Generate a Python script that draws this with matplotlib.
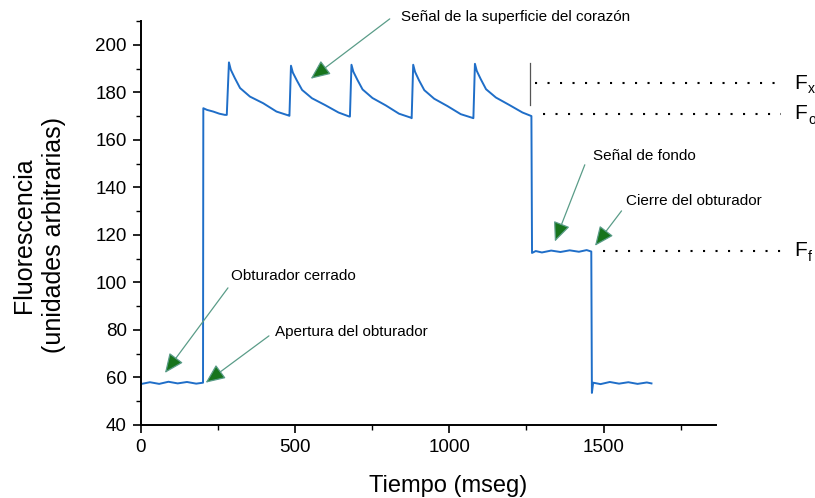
import matplotlib
matplotlib.use("Agg")
import matplotlib.pyplot as plt
from matplotlib.ticker import MultipleLocator

# Trazo de fluorescencia (tiempo en mseg, unidades arbitrarias)
tiempo = [7, 30, 60, 90, 120, 150, 180, 202,
          203, 215, 235, 255, 273,
          279, 286, 292, 305, 322, 354, 397, 440, 478,
          482, 487, 493, 506, 523, 555, 598, 641, 676,
          678, 683, 689, 702, 719, 751, 794, 837, 876,
          878, 883, 889, 902, 919, 951, 994, 1037, 1076,
          1078, 1083, 1089, 1102, 1119, 1151, 1194, 1237, 1266,
          1268, 1280, 1300, 1330, 1360, 1390, 1420, 1445, 1460,
          1462, 1466, 1490, 1520, 1550, 1580, 1610, 1640, 1655]
fluor = [57.4, 58.0, 57.3, 58.2, 57.5, 58.1, 57.4, 57.8,
         173.3, 172.6, 171.9, 171.0, 170.5,
         170.5, 192.6, 189.5, 186.0, 181.8, 178.2, 175.4, 171.9, 170.3,
         170.1, 191.2, 188.3, 185.0, 181.0, 177.5, 174.6, 171.5, 169.8,
         169.8, 191.6, 188.7, 185.3, 181.2, 177.6, 174.5, 171.0, 169.3,
         169.1, 191.6, 188.6, 185.0, 180.9, 177.3, 174.2, 170.8, 169.2,
         169.1, 192.0, 189.0, 185.5, 181.3, 177.8, 174.7, 171.5, 170.0,
         112.4, 113.2, 112.6, 113.4, 112.8, 113.5, 112.9, 113.6, 113.0,
         53.5, 57.8, 57.2, 58.1, 57.4, 58.0, 57.3, 57.9, 57.5]

# Niveles de referencia (F_x, F_o, F_f)
niveles = [183.9, 171.0, 113.4]
nivel_inicio = [1277, 1303, 1498]
nivel_sub = ["x", "o", "f"]

x_ticks = [0, 500, 1000, 1500]
y_ticks = [40, 60, 80, 100, 120, 140, 160, 180, 200]

plt.rcParams["font.family"] = ["Liberation Sans", "DejaVu Sans"]

fig = plt.figure(figsize=(8.15, 4.98), dpi=100)
ax = fig.add_axes([0.1726, 0.1466, 0.7059, 0.8112])

ax.plot(tiempo, fluor, color="#1f6ec8", lw=1.4)

ax.set_xlim(0, 1864)
ax.set_ylim(40, 210)
ax.set_xticks(x_ticks)
ax.set_yticks(y_ticks)
ax.xaxis.set_minor_locator(MultipleLocator(250))
ax.yaxis.set_minor_locator(MultipleLocator(10))
ax.tick_params(which="major", length=6, width=1.2, labelsize=13.5, pad=4)
ax.tick_params(which="minor", length=3.5, width=1.0)
for s in ["top", "right"]:
    ax.spines[s].set_visible(False)
for s in ["left", "bottom"]:
    ax.spines[s].set_linewidth(1.4)

ax.set_xlabel("Tiempo (mseg)", fontsize=17)
ax.xaxis.set_label_coords(0.534, -0.125)
ax.set_ylabel("Fluorescencia\n(unidades arbitrarias)", fontsize=18,
              linespacing=1.3)
ax.yaxis.set_label_coords(-0.13, 0.47)

# líneas de referencia punteadas
for y, x0, sub in zip(niveles, nivel_inicio, nivel_sub):
    ax.plot([x0, 2074], [y, y], color="black", lw=1.5,
            linestyle=(0, (1, 5)), clip_on=False)
    ax.text(2116, y, "F", fontsize=15, va="center", ha="left", clip_on=False)
    ax.text(2162, y - 2.5, sub, fontsize=10, va="center", ha="left",
            clip_on=False)
ax.plot([1263, 1263], [174.7, 192.2], color="#555555", lw=0.9)

# anotaciones
flecha = dict(arrowstyle="-|>,head_length=0.8,head_width=0.35",
              ec="#5a9c88", fc="#17741c", lw=0.9, mutation_scale=15,
              shrinkA=0, shrinkB=0)
notas = [
    ("Señal de la superficie del corazón", (843, 211.8), (807, 210.9), (551, 185.7)),
    ("Obturador cerrado", (291.5, 102.9), (282.8, 97.7), (78.7, 61.9)),
    ("Apertura del obturador", (435, 79.3), (415.6, 77.5), (210.6, 57.8)),
    ("Señal de fondo", (1465, 153.0), (1439, 149.5), (1342, 117.2)),
    ("Cierre del obturador", (1572, 134.3), (1558, 130.1), (1472, 115.4)),
]
for txt, pos, ini, fin in notas:
    ax.text(pos[0], pos[1], txt, fontsize=11, ha="left",
            va="center", clip_on=False)
    ax.annotate("", xy=fin, xytext=ini, arrowprops=flecha,
                annotation_clip=False)

fig.savefig("out.png", dpi=100)
